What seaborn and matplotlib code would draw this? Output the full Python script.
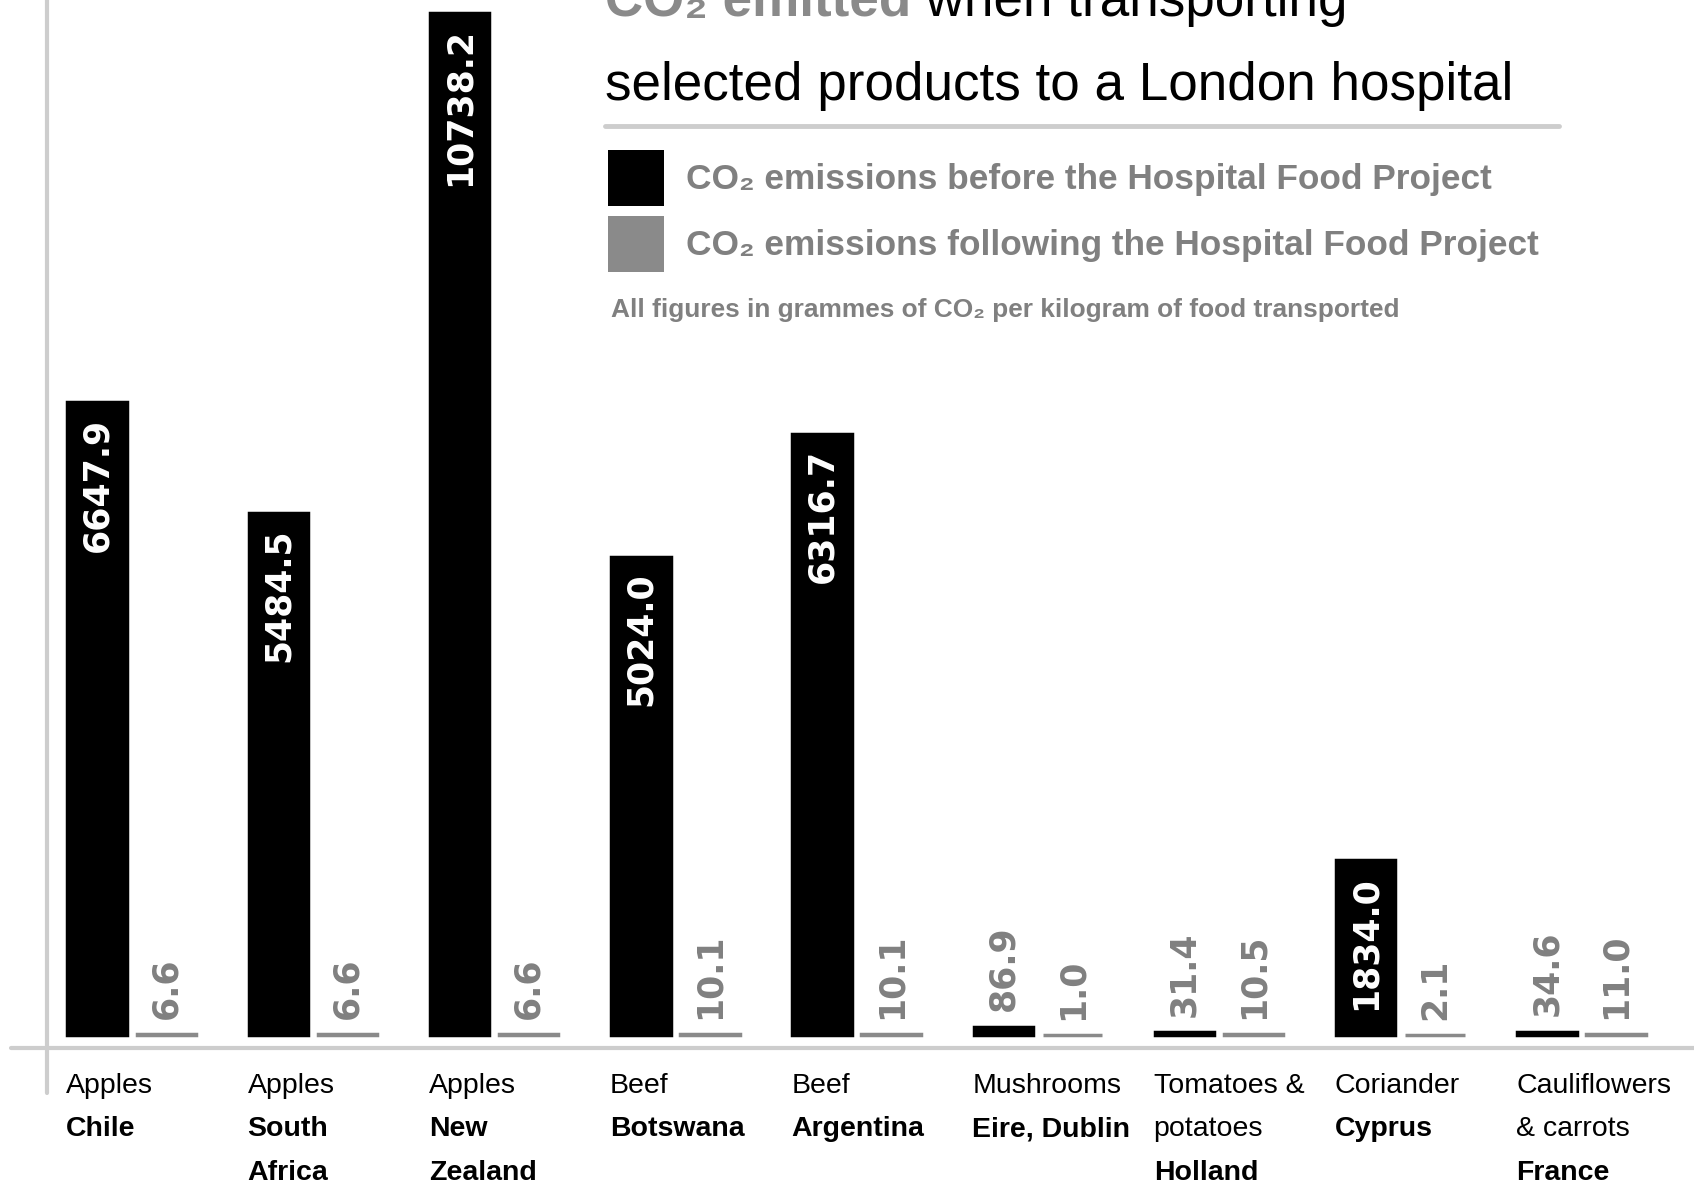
import matplotlib
matplotlib.use("Agg")
import matplotlib.pyplot as plt
from matplotlib import font_manager
from matplotlib.lines import Line2D
from matplotlib.patches import Patch
from matplotlib.transforms import blended_transform_factory
import pandas as pd
import seaborn as sns

# ---------------- data ----------------
products = ["Apples", "Apples", "Apples", "Beef", "Beef", "Mushrooms",
            "Tomatoes &\npotatoes", "Coriander", "Cauliflowers\n& carrots"]
countries = ["Chile", "South\nAfrica", "New\nZealand", "Botswana", "Argentina",
             "Eire, Dublin", "Holland", "Cyprus", "France"]
before = [6647.9, 5484.5, 10738.2, 5024.0, 6316.7, 86.9, 31.4, 1834.0, 34.6]
after = [6.6, 6.6, 6.6, 10.1, 10.1, 1.0, 10.5, 2.1, 11.0]
series = ["CO₂ emissions before the Hospital Food Project",
          "CO₂ emissions following the Hospital Food Project"]
title_gray = "CO₂ emitted"
title_black = " when transporting"
title_line2 = "selected products to a London hospital"
note = "All figures in grammes of CO₂ per kilogram of food transported"

# ---------------- style ----------------
W, H = 1694, 1184
BLACK = "#000000"
GRAY = "#8a8a8a"
TXT_GRAY = "#808080"
RULE = "#cdcdcd"

sns.set_theme(style="white")
names = {f.name for f in font_manager.fontManager.ttflist}
if "Liberation Sans Narrow" in names:
    NARROW, K = "Liberation Sans Narrow", 1.0
else:
    NARROW, K = "Liberation Sans", 0.82
FAM = [NARROW, "DejaVu Sans"]
plt.rcParams["font.family"] = FAM


def fx(px):
    return px / W


def fy(px):
    return 1 - px / H


cats = [f"{p} {c}" for p, c in zip(products, countries)]
df = pd.DataFrame({
    "cat": cats * 2,
    "value": before + after,
    "series": [series[0]] * len(cats) + [series[1]] * len(cats),
})

fig = plt.figure(figsize=(W / 100, H / 100), dpi=100)
ax = fig.add_axes([0, 0, 1, 1])
sns.barplot(data=df, x="cat", y="value", hue="series", hue_order=series,
            palette=[BLACK, GRAY], saturation=1, errorbar=None,
            width=0.763, gap=0.14, legend=False, ax=ax)
ax.set_xlim(-0.727, 8.621)
ax.set_ylim(-1565, 10875)
ax.axis("off")

for cont in ax.containers:
    for bar in cont:
        bar.set_edgecolor(bar.get_facecolor())
        bar.set_linewidth(2.5)

# value labels
for cont, vals in zip(ax.containers, [before, after]):
    for bar, v in zip(cont, vals):
        xc = bar.get_x() + bar.get_width() / 2
        if v > 1000:
            ax.annotate(f"{v:.1f}", (xc, bar.get_height()), xytext=(0, -11),
                        textcoords="offset points", rotation=90, ha="center",
                        va="top", color="white", fontsize=25,
                        fontweight="bold", family="DejaVu Sans")
        else:
            ax.annotate(f"{v:.1f}", (xc, bar.get_height()), xytext=(0, 11),
                        textcoords="offset points", rotation=90, ha="center",
                        va="bottom", color=TXT_GRAY, fontsize=25,
                        fontweight="bold", family="DejaVu Sans")

# category labels (product regular, country bold)
trans = blended_transform_factory(ax.transData, fig.transFigure)
for bar, p, c in zip(ax.containers[0], products, countries):
    x0 = bar.get_x() - 0.006
    lines = [(t, "normal") for t in p.split("\n")] + [(t, "bold") for t in c.split("\n")]
    for k, (t, wgt) in enumerate(lines):
        ax.text(x0, fy(1093 + 43.5 * k), t, transform=trans, ha="left",
                va="baseline", fontsize=25 * K, fontweight=wgt, color=BLACK,
                family=FAM)

# axis decoration lines
fig.add_artist(Line2D([fx(11), 1], [fy(1048), fy(1048)], color=RULE, lw=3))
fig.add_artist(Line2D([fx(47), fx(47)], [fy(1093), 1], color=RULE, lw=3))

# title
t1 = fig.text(fx(605), fy(16), title_gray, ha="left", va="baseline",
              fontsize=46.5 * K, fontweight="bold", color=GRAY, family=FAM)
ax.annotate(title_black, xy=(1, fy(16)), xycoords=(t1, "figure fraction"),
            ha="left", va="baseline", fontsize=46.5 * K, color=BLACK,
            family=FAM, annotation_clip=False)
fig.text(fx(605), fy(100), title_line2, ha="left", va="baseline",
         fontsize=46.5 * K, color=BLACK, family=FAM)
fig.add_artist(Line2D([fx(605), fx(1559)], [fy(126), fy(126)], color=RULE, lw=3.5))

# legend
handles = [Patch(facecolor=BLACK, edgecolor="none"),
           Patch(facecolor=GRAY, edgecolor="none")]
leg = ax.legend(handles, series, loc="upper left",
                bbox_to_anchor=(fx(608), fy(150)), bbox_transform=fig.transFigure,
                frameon=False, borderpad=0, borderaxespad=0,
                handlelength=1.6, handleheight=2.05, handletextpad=0.6,
                labelspacing=0.29,
                prop={"family": FAM, "weight": "bold", "size": 31 * K},
                labelcolor=TXT_GRAY)

fig.text(fx(611), fy(317), note, ha="left", va="baseline", fontsize=23 * K,
         fontweight="bold", color=TXT_GRAY, family=FAM)

fig.savefig("out.png", dpi=100)
